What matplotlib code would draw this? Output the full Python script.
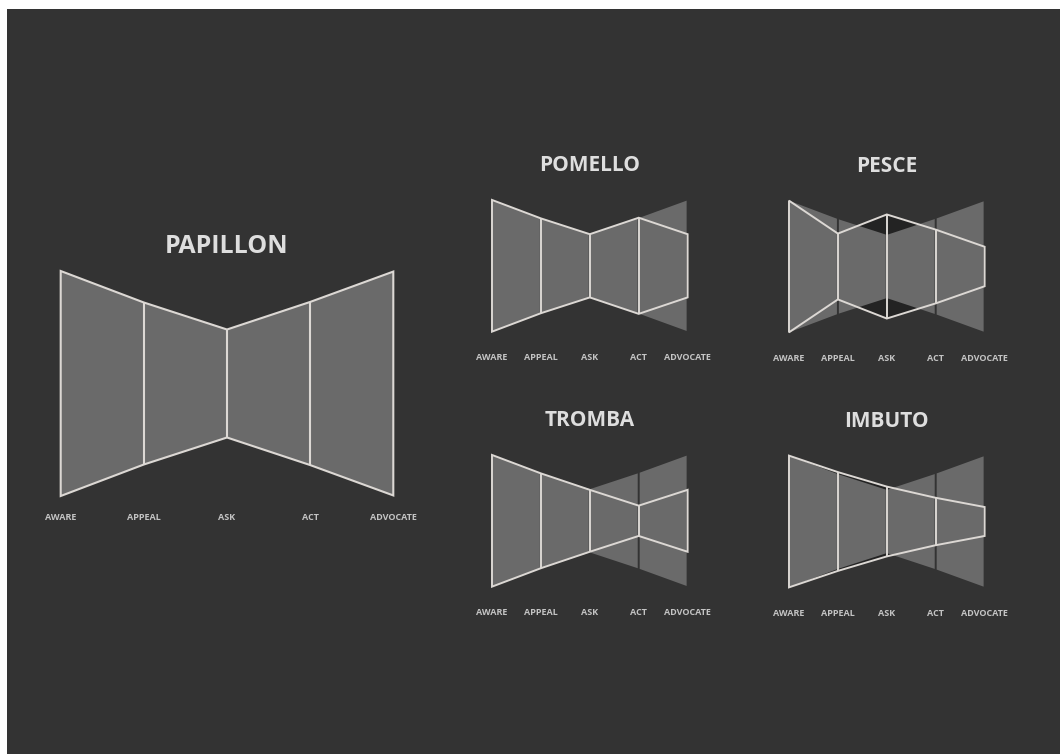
import matplotlib
matplotlib.use("Agg")
import matplotlib.pyplot as plt
from matplotlib.patches import Rectangle, Polygon

# ===============================
# Data (stage widths, AWARE = 100)
# ===============================
stages = ["AWARE", "APPEAL", "ASK", "ACT", "ADVOCATE"]

papillon = [100, 72, 48, 72.5, 99.5]
pomello = [100, 72, 48, 73, 48]
pesce = [100, 50, 79, 56, 30]
tromba = [100, 72, 47, 23, 47]
imbuto = [100, 75, 53, 36, 22]

# ===============================
# Style
# ===============================
BG = "#333333"
FILL = "#6a6a6a"
DARK = "#232323"
LINE = "#dcd8d4"
TITLE_C = "#dedede"
LABEL_C = "#c4c4c4"

W, H = 1060, 754
fig = plt.figure(figsize=(W / 100, H / 100), dpi=100, facecolor="white")
fig.patches.append(Rectangle((7 / W, 0), 1, (H - 9) / H, transform=fig.transFigure,
                             facecolor=BG, edgecolor="none", zorder=-10))


def make_axes(x0, cy, dx, k):
    # x0, cy in pixels: AWARE position and vertical centre; dx px per stage; k px per unit
    left = x0 - dx
    width = 6 * dx
    top = cy - 85 * k
    height = 170 * k
    ax = fig.add_axes([left / W, 1 - (top + height) / H, width / W, height / H])
    ax.set_xlim(-1, 5)
    ax.set_ylim(-85, 85)
    ax.patch.set_alpha(0)
    ax.axis("off")
    return ax


def outline(ax, vals, lw):
    n = len(vals)
    pts = [(i, vals[i] / 2) for i in range(n)] + [(i, -vals[i] / 2) for i in reversed(range(n))]
    ax.add_patch(Polygon(pts, closed=True, facecolor="none", edgecolor=LINE,
                         linewidth=lw, joinstyle="miter", zorder=5))
    for i in range(1, n - 1):
        ax.plot([i, i], [-vals[i] / 2, vals[i] / 2], color=LINE, linewidth=lw,
                solid_capstyle="butt", zorder=5)


def shape_fill(ax, vals, color, z):
    n = len(vals)
    pts = [(i, vals[i] / 2) for i in range(n)] + [(i, -vals[i] / 2) for i in reversed(range(n))]
    ax.add_patch(Polygon(pts, closed=True, facecolor=color, edgecolor="none", zorder=z))


def pieces(ax, vals, gap, z):
    for i in range(len(vals) - 1):
        a, b = i + gap, i + 1 - gap
        ya = vals[i] + (vals[i + 1] - vals[i]) * gap
        yb = vals[i + 1] - (vals[i + 1] - vals[i]) * gap
        pts = [(a, ya / 2), (b, yb / 2), (b, -yb / 2), (a, -ya / 2)]
        ax.add_patch(Polygon(pts, closed=True, facecolor=FILL, edgecolor="none", zorder=z))


def labels(ax, title, title_y, label_y, tsize):
    ax.text(2, title_y, title, ha="center", va="center", fontsize=tsize,
            color=TITLE_C, family="Open Sans", fontweight="bold", clip_on=False)
    for i, s in enumerate(stages):
        ax.text(i, label_y, s, ha="center", va="center", fontsize=6.5,
                color=LABEL_C, family="Open Sans", fontweight="bold", clip_on=False)


# ===============================
# Big PAPILLON
# ===============================
ax = make_axes(60.7, 383.5, 83.15, 2.25)
shape_fill(ax, papillon, FILL, 2)
outline(ax, papillon, 1.5)
labels(ax, "PAPILLON", 60.8, -59.6, 18)

# ===============================
# Small variants on top of papillon shadow
# ===============================
small = [
    ("POMELLO", pomello, 492.0, 265.8),
    ("PESCE", pesce, 789.0, 266.5),
    ("TROMBA", tromba, 492.0, 520.8),
    ("IMBUTO", imbuto, 789.0, 521.5),
]
for name, vals, x0, cy in small:
    ax = make_axes(x0, cy, 48.9, 1.317)
    shape_fill(ax, vals, DARK, 1)
    pieces(ax, papillon, 0.02, 2)
    outline(ax, vals, 1.4)
    labels(ax, name, 76, -69.5, 15)

fig.savefig("out.png", dpi=100, facecolor=fig.get_facecolor())
